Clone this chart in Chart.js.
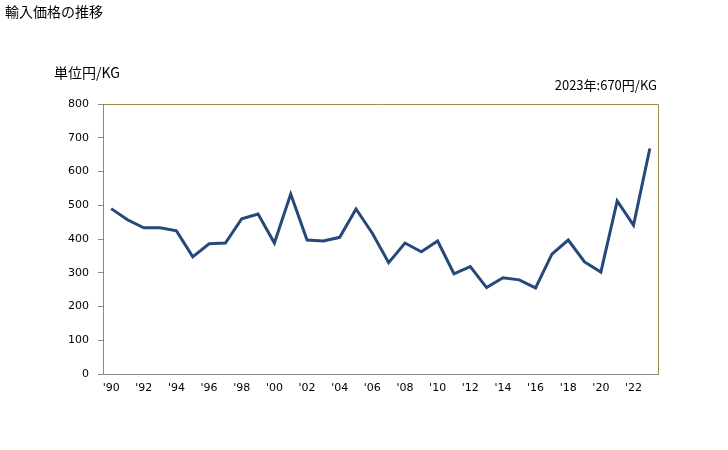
<!DOCTYPE html>
<html><head><meta charset="utf-8">
<script src="https://cdn.jsdelivr.net/npm/chart.js@4/dist/chart.umd.min.js"></script>
<style>
html,body{margin:0;padding:0;background:#fff;}
#wrap{position:relative;width:728px;height:450px;font-family:"Noto Sans CJK JP","DejaVu Sans",sans-serif;}
canvas{position:absolute;left:0;top:0;}
.t{position:absolute;white-space:nowrap;color:#000;}
</style></head><body>
<div id="wrap">
<canvas id="c" width="728" height="450"></canvas>
<div class="t" id="title" style="left:5px;top:1px;font-size:14px;">輸入価格の推移</div>
<div class="t" id="unit" style="left:54px;top:62px;font-size:14px;">単位円/KG</div>
<div class="t" id="note" style="right:71px;top:75px;font-size:13px;">2023年:670円/KG</div>
</div>
<script>
const years = ["1990","1991","1992","1993","1994","1995","1996","1997","1998","1999","2000","2001","2002","2003","2004","2005","2006","2007","2008","2009","2010","2011","2012","2013","2014","2015","2016","2017","2018","2019","2020","2021","2022","2023"];
const prices = [490,457,433,433,424,347,386,388,460,474,388,533,397,394,405,489,417,330,388,362,394,297,318,256,285,279,255,355,397,332,302,513,441,668];
const xTickLabels = ["'90","","'92","","'94","","'96","","'98","","'00","","'02","","'04","","'06","","'08","","'10","","'12","","'14","","'16","","'18","","'20","","'22",""];
const yTicks = [0,100,200,300,400,500,600,700,800];

const frame = {
  id:'frame',
  afterDatasetsDraw(chart){
    const a = chart.chartArea, ctx = chart.ctx;
    ctx.save();
    ctx.strokeStyle = '#9c8b4c';
    ctx.lineWidth = 1;
    ctx.beginPath();
    ctx.moveTo(a.left, a.top + 0.5);
    ctx.lineTo(a.right + 0.5, a.top + 0.5);
    ctx.lineTo(a.right + 0.5, a.bottom);
    ctx.stroke();
    ctx.restore();
  }
};

new Chart(document.getElementById('c'), {
  type:'line',
  data:{labels:years, datasets:[{data:prices, borderColor:'#26497a', borderWidth:3, pointRadius:0, tension:0, fill:false}]},
  options:{
    responsive:false, animation:false,
    layout:{padding:{left:0,top:104,right:70,bottom:0}},
    plugins:{legend:{display:false}, tooltip:{enabled:false}},
    scales:{
      x:{
        offset:true,
        grid:{display:false, drawTicks:false},
        border:{display:true, color:'#888', width:1},
        ticks:{autoSkip:false, maxRotation:0, padding:8, color:'#000', font:{size:11, family:'"DejaVu Sans",sans-serif'},
          callback:(v,i)=>xTickLabels[i]},
        afterFit:s=>{s.height=76;}
      },
      y:{
        min:0, max:800,
        afterBuildTicks:s=>{s.ticks = yTicks.map(v=>({value:v}));},
        grid:{display:true, drawOnChartArea:false, drawTicks:true, tickLength:5, color:'#888'},
        border:{display:true, color:'#888', width:1},
        ticks:{padding:9, color:'#000', font:{size:11, family:'"DejaVu Sans",sans-serif'}},
        afterFit:s=>{s.width=103;}
      }
    }
  },
  plugins:[frame]
});
</script>
</body></html>
